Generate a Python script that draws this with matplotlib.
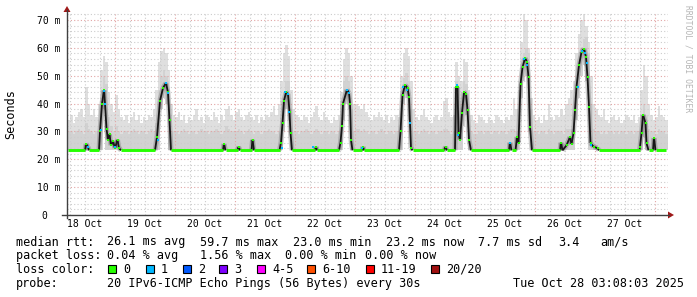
import numpy as np
import matplotlib
matplotlib.use("Agg")
import matplotlib.pyplot as plt
from matplotlib.collections import LineCollection
from matplotlib.patches import Polygon, Rectangle
from matplotlib.lines import Line2D

MONO = "DejaVu Sans Mono"
W, H = 697, 297

# ---------------------------------------------------------------- data
# time axis is in hours after 18 Oct 00:00
t_start, t_end = 4.8, 245.2
rtt_floor = 23.2

# median rtt (ms), breakpoints
med_h = [5.0, 12.0, 12.4, 13.2, 13.6, 17.6, 18.0, 18.8, 19.6, 20.0, 20.6, 21.2, 21.8, 22.4, 23.2, 24.0, 25.0, 25.6, 26.4,
         40.0, 40.8, 42.0, 43.2, 44.4, 45.2, 45.8, 46.4,
         67.2, 67.6, 68.2, 73.0, 73.4, 74.0, 78.6, 79.0, 79.6,
         89.8, 90.4, 91.0, 91.6, 92.4, 93.2, 93.8, 94.2, 94.8,
         104.0, 104.4, 104.8,
         113.6, 114.2, 114.8, 115.2, 116.8, 117.6, 118.0, 118.4, 119.0,
         122.8, 123.2, 123.6,
         137.6, 138.2, 139.0, 140.0, 141.0, 141.6, 142.0, 142.4, 143.0,
         155.6, 156.2, 156.8,
         160.0, 160.4, 161.0, 161.4, 162.0, 162.8, 163.6, 164.4, 165.0, 165.6, 166.4,
         181.6, 182.0, 182.6, 184.2, 184.8, 185.4, 186.2, 187.0, 188.0, 188.8, 189.4, 190.0, 190.8,
         202.0, 202.4, 203.0, 204.6, 206.0, 206.6, 207.4, 208.0, 208.6, 209.6, 210.6, 211.6, 212.4, 213.0,
         213.6, 214.2, 215.4, 217.0, 217.6,
         233.8, 234.0, 234.6, 235.2, 236.2, 236.6, 237.4,
         239.2, 239.6, 240.2, 244.2]
med_ms = [23.2, 23.2, 25.5, 24.5, 23.2, 23.2, 30.0, 40.0, 44.8, 40.0, 31.0, 27.0, 29.0, 25.0, 26.5, 24.0, 27.0, 24.0, 23.2,
          23.2, 28.0, 41.0, 45.6, 47.4, 44.0, 34.0, 23.2,
          23.2, 25.5, 23.2, 23.2, 24.5, 23.2, 23.2, 27.0, 23.2,
          23.2, 26.0, 33.0, 41.0, 44.0, 43.5, 37.0, 29.4, 23.2,
          23.2, 24.5, 23.2,
          23.2, 26.0, 32.0, 40.0, 45.0, 43.8, 40.0, 27.0, 23.2,
          23.2, 24.5, 23.2,
          23.2, 30.0, 43.0, 46.7, 45.6, 42.4, 33.0, 24.0, 23.2,
          23.2, 24.5, 23.2,
          23.2, 46.0, 46.0, 29.4, 27.0, 36.6, 44.0, 43.6, 37.7, 27.0, 23.2,
          23.2, 26.0, 23.2, 23.2, 28.0, 26.0, 47.0, 53.0, 56.3, 55.0, 49.5, 31.6, 23.2,
          23.2, 26.0, 23.2, 25.0, 28.0, 25.5, 29.4, 37.7, 46.0, 53.8, 58.5, 59.7, 56.7, 49.5,
          38.8, 25.8, 24.5, 24.0, 23.2,
          23.2, 24.4, 29.4, 36.0, 33.0, 25.8, 23.2,
          23.2, 27.6, 23.2, 23.2]

# samples with 1 lost ping
loss1_h = [13.2, 18.4, 20.0, 19.6, 24.0, 41.2, 44.4, 45.2, 90.8, 92.0, 93.2, 93.6, 103.2, 116.8, 117.6,
           122.8, 139.2, 140.8, 142.0, 160.8, 161.2, 182.0, 187.6, 188.8, 209.2, 210.8, 212.0, 212.8, 214.4]
loss1_ms = [24.5, 30.5, 40.0, 44.4, 24.4, 27.0, 47.4, 43.8, 24.0, 44.0, 43.5, 37.0, 24.4, 45.0, 43.8,
            24.0, 46.0, 45.0, 33.0, 46.7, 28.7, 25.8, 56.0, 54.0, 46.0, 59.0, 58.0, 54.5, 25.0]

# hourly smoke (hours 5 .. 244): top of all pings and top of the dense part
smoke_hours = list(range(5, 245))
smoke_hi = [
    34, 36, 33, 35, 37, 38, 35, 46, 40, 36, 38, 35, 40, 52, 57, 55, 44, 40, 37,
    43, 38, 35, 34, 36, 33, 35, 37, 34, 36, 33, 35, 34, 36, 35, 38, 45, 55, 59, 60, 58, 52, 40, 36,
    35, 37, 34, 36, 33, 35, 34, 36, 38, 34, 35, 33, 36, 35, 34, 37, 35, 33, 36, 34, 38, 39, 36, 34,
    37, 38, 35, 34, 36, 37, 35, 34, 36, 33, 35, 34, 36, 35, 37, 39, 36, 40, 48, 58, 61, 57, 45, 38,
    36, 35, 34, 36, 35, 33, 35, 37, 39, 35, 34, 37, 35, 34, 33, 35, 34, 36, 44, 56, 60, 58, 50, 40,
    40, 39, 38, 40, 37, 35, 34, 36, 35, 37, 35, 34, 36, 33, 35, 34, 36, 35, 50, 58, 60, 57, 48, 38,
    35, 34, 36, 38, 35, 34, 33, 35, 36, 34, 35, 41, 42, 37, 35, 36, 55, 50, 48, 56, 55, 45, 36, 34,
    33, 36, 35, 34, 33, 35, 34, 33, 36, 35, 34, 33, 35, 34, 36, 42, 38, 45, 62, 72, 70, 60, 42, 36,
    34, 35, 33, 36, 34, 40, 35, 34, 36, 35, 38, 36, 40, 42, 45, 48, 58, 65, 70, 72, 68, 62, 50, 40,
    38, 36, 35, 38, 34, 33, 35, 36, 34, 35, 33, 34, 36, 35, 34, 36, 33, 35, 45, 54, 50, 40, 36, 34,
    35, 39, 36, 35, 34]
smoke_mid = [
    30, 30, 29, 30, 31, 30, 29, 33, 31, 30, 29, 30, 30, 40, 50, 47, 35, 32, 30,
    32, 30, 29, 30, 30, 29, 30, 31, 30, 29, 30, 30, 29, 30, 31, 30, 33, 45, 50, 52, 50, 40, 30, 30,
    30, 29, 30, 31, 30, 29, 30, 30, 29, 30, 31, 30, 30, 29, 30, 30, 31, 30, 29, 30, 32, 31, 30, 30,
    30, 31, 30, 29, 30, 31, 30, 29, 30, 30, 29, 30, 30, 31, 30, 30, 29, 30, 32, 42, 48, 48, 38, 30,
    30, 29, 30, 30, 31, 30, 29, 30, 31, 30, 29, 30, 30, 29, 30, 30, 29, 30, 35, 48, 50, 48, 38, 30,
    31, 31, 30, 31, 30, 29, 30, 30, 29, 30, 31, 30, 29, 30, 30, 29, 30, 30, 38, 49, 51, 48, 38, 30,
    30, 29, 30, 31, 30, 29, 30, 30, 29, 30, 30, 31, 31, 30, 29, 30, 48, 32, 38, 48, 47, 36, 30, 29,
    29, 30, 30, 29, 30, 30, 29, 30, 30, 29, 30, 30, 29, 30, 31, 31, 30, 32, 52, 58, 60, 58, 38, 30,
    30, 29, 30, 30, 29, 31, 30, 29, 30, 30, 30, 29, 31, 31, 31, 32, 44, 52, 60, 63, 64, 58, 40, 31,
    30, 30, 29, 30, 29, 30, 30, 29, 30, 29, 30, 30, 29, 30, 30, 29, 30, 30, 34, 40, 36, 31, 30, 30,
    29, 31, 30, 30, 29]
# hours where even the fastest ping was above the floor
lo_h = [19, 42, 43, 44, 91, 92, 93, 115, 116, 117, 139, 140, 141, 163, 164,
        186, 187, 188, 189, 208, 209, 210, 211, 212, 235]
lo_ms = [38, 38, 42, 40, 30, 38, 34, 34, 40, 38, 40, 42, 34, 32, 36,
         42, 48, 50, 30, 34, 42, 50, 54, 48, 28]

day_names = ["18 Oct", "19 Oct", "20 Oct", "21 Oct", "22 Oct",
             "23 Oct", "24 Oct", "25 Oct", "26 Oct", "27 Oct"]
y_ticks = [0, 10, 20, 30, 40, 50, 60, 70]
y_labels = ["0  ", "10 m", "20 m", "30 m", "40 m", "50 m", "60 m", "70 m"]

rtt_stats = ["26.1 ms avg", "59.7 ms max", "23.0 ms min", "23.2 ms now", "7.7 ms sd", "3.4", "am/s"]
loss_stats = ["0.04 % avg", "1.56 % max", "0.00 % min", "0.00 % now"]
loss_names = ["0", "1", "2", "3", "4-5", "6-10", "11-19", "20/20"]
loss_colors = ["#26ff00", "#00b8ff", "#0059ff", "#7e00ff", "#ff00ff", "#ff5000", "#ff0000", "#a01010"]
probe_text = "20 IPv6-ICMP Echo Pings (56 Bytes) every 30s"
stamp_text = "Tue Oct 28 03:08:03 2025"


def px(x, y):
    return x / W, 1 - y / H


fig = plt.figure(figsize=(W / 100, H / 100), dpi=100)
fig.patch.set_facecolor("white")
ax = fig.add_axes([67 / W, (H - 215) / H, (668 - 67) / W, (215 - 13) / H])
ax.set_xlim(t_start, t_end)
ax.set_ylim(0, (215 - 13) / 2.786)
for s in ax.spines.values():
    s.set_visible(False)

# smoke
lo = np.full(len(smoke_hours), rtt_floor)
for h, v in zip(lo_h, lo_ms):
    lo[smoke_hours.index(h)] = v
hi = np.array(smoke_hi, float)
mid = np.maximum(np.array(smoke_mid, float), lo)
edges = np.append(smoke_hours, smoke_hours[-1] + 1)
ax.stairs(hi, edges, baseline=lo, fill=True, color="#dfdfdf", lw=0, zorder=1)
ax.stairs(mid, edges, baseline=lo, fill=True, color="#d2d2d2", lw=0, zorder=1.1)

# grid
for h in range(6, 246, 6):
    major = h % 24 == 0
    ax.axvline(h, color="#e2a4a4" if major else "#cccccc", lw=0.8,
               ls=(0, (1, 2)), zorder=2)
for v in range(2, 73, 2):
    major = v % 10 == 0
    ax.axhline(v, color="#e2a4a4" if major else "#cccccc", lw=0.8,
               ls=(0, (1, 2)), zorder=2)

# median line
pts = np.column_stack([med_h, med_ms])
segs = np.stack([pts[:-1], pts[1:]], axis=1)
flat = (pts[:-1, 1] <= rtt_floor + 0.05) & (pts[1:, 1] <= rtt_floor + 0.05)
ax.add_collection(LineCollection(segs[~flat], colors="#6a6a6a", linewidths=3.6,
                                 alpha=0.35, zorder=3))
ax.add_collection(LineCollection(segs[~flat], colors="#161616", linewidths=1.3,
                                 zorder=4))
ax.add_collection(LineCollection(segs[flat], colors=loss_colors[0], linewidths=2.1,
                                 zorder=5))
up = np.array(med_ms) > rtt_floor + 0.05
ax.plot(np.array(med_h)[up], np.array(med_ms)[up], "s", ms=1.5, mew=0,
        color=loss_colors[0], zorder=6)
ax.plot(loss1_h, loss1_ms, "s", ms=1.6, mew=0, color=loss_colors[1], zorder=6)

# ticks
ax.set_yticks(y_ticks, y_labels, fontfamily=MONO, fontsize=7)
ax.set_xticks([12 + 24 * i for i in range(len(day_names))], day_names,
              fontfamily=MONO, fontsize=7)
ax.tick_params(length=0)
ax.tick_params(axis="y", pad=5)
ax.tick_params(axis="x", pad=3)

# axes with arrows
fig.add_artist(Line2D([67 / W, 67 / W], [1 - 218 / H, 1 - 10 / H], color="#404040", lw=1))
fig.add_artist(Line2D([62 / W, 669 / W], [1 - 215 / H, 1 - 215 / H], color="#404040", lw=1))
fig.add_artist(Polygon([px(67, 6), px(63.5, 12), px(70.5, 12)], closed=True,
                       color="#a01818", lw=0))
fig.add_artist(Polygon([px(674, 215), px(668, 211.5), px(668, 218.5)], closed=True,
                       color="#a01818", lw=0))

# labels
fig.text(*px(11, 114), "Seconds", rotation=90, ha="center", va="center",
         fontsize=8.5, family=MONO)
fig.text(*px(688, 5), "RRDTOOL / TOBI OETIKER", rotation=270, ha="center", va="top",
         fontsize=5.8, family=MONO, color="#b5b5b5")

# legend
fs = 8.5
fig.text(*px(16, 245.5), "median rtt:", fontsize=fs, family=MONO, va="baseline")
for x, s in zip([107, 200, 293, 386, 478, 558, 600], rtt_stats):
    fig.text(*px(x, 245.5), s, fontsize=fs, family=MONO, va="baseline")
fig.text(*px(16, 259.3), "packet loss:", fontsize=fs, family=MONO, va="baseline")
for x, s in zip([107, 200, 285, 365], loss_stats):
    fig.text(*px(x, 259.3), s, fontsize=fs, family=MONO, va="baseline")
fig.text(*px(16, 273), "loss color:", fontsize=fs, family=MONO, va="baseline")
for x, name, c in zip([108, 146, 183, 219, 257, 307, 366, 431], loss_names, loss_colors):
    fig.add_artist(Rectangle(px(x, 273), 8 / W, 8 / H, facecolor=c,
                             edgecolor="black", lw=0.8))
    fig.text(*px(x + 15, 273), name, fontsize=fs, family=MONO, va="baseline")
fig.text(*px(16, 286.7), "probe:", fontsize=fs, family=MONO, va="baseline")
fig.text(*px(107, 286.7), probe_text, fontsize=fs, family=MONO, va="baseline")
fig.text(*px(513, 286.7), stamp_text, fontsize=fs, family=MONO, va="baseline")

fig.savefig("out.png", dpi=100)
